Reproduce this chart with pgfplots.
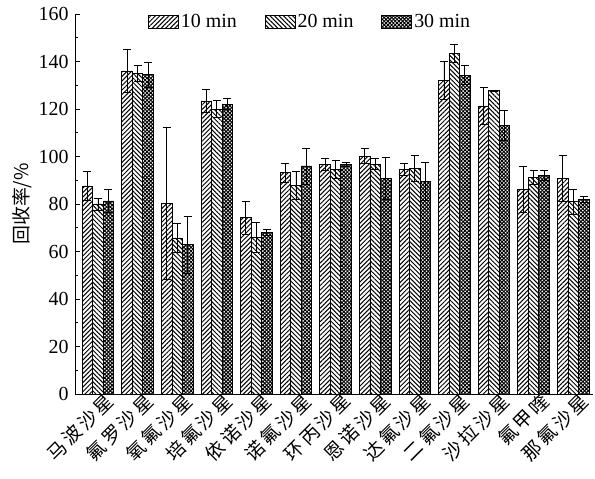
\documentclass[border=0pt]{standalone}
\usepackage{fontspec}
\setmainfont{Liberation Serif}
\newfontfamily\cjk{Noto Sans CJK SC}
\newfontfamily\cjkl{Noto Sans CJK SC}[LetterSpace=15]
\usepackage{pgfplots}
\usepackage{pgfplotstable}
\pgfplotsset{compat=1.18}
\usetikzlibrary{patterns.meta}

\pgfplotstableread{
x v10 e10 v20 e20 v30 e30
0 87.6 6.0 80.0 2.5 81.3 4.7
1 136.0 9.0 135.0 3.2 134.4 5.2
2 80.3 32.0 65.7 6.2 62.9 12.0
3 123.4 4.7 119.9 3.6 122.1 2.2
4 74.2 6.9 65.8 6.3 68.2 1.3
5 93.2 3.9 87.8 5.8 96.0 7.6
6 96.6 2.6 94.6 3.9 96.6 0.8
7 100.2 3.1 96.8 2.3 90.7 8.8
8 94.7 2.6 95.0 5.5 89.5 7.9
9 132.2 8.0 143.4 3.8 134.3 3.9
10 121.3 7.8 127.7 0.3 113.0 6.4
11 86.2 9.7 91.1 2.9 91.9 2.1
12 90.8 9.7 81.0 5.2 82.1 1.3
}\data

\pgfplotsset{
  mylegend/.style={legend image code/.code={\draw[##1, line width=0.8pt] (0bp,-6.5bp) rectangle (30bp,6.5bp);}},
  mybar/.style={ybar, bar width=0.265, bar shift=0pt, draw=black, line width=0.8pt,
    error bars/y dir=both, error bars/y explicit,
    error bars/error bar style={line width=0.8pt, black},
    error bars/error mark options={rotate=90, mark size=4bp, line width=0.8pt, black}},
}

\begin{document}
\begin{tikzpicture}
\begin{axis}[
  scale only axis,
  width=518bp, height=380bp,
  xmin=-0.58, xmax=12.5,
  ymin=0, ymax=160,
  axis x line=bottom, axis y line=left,
  axis line style={-, line width=0.8pt},
  ytick={0,20,...,160},
  minor y tick num=1,
  tick align=inside,
  major tick length=5bp, minor tick length=3bp,
  y tick style={line width=0.8pt, black},
  xtick={0,...,12},
  x tick style={draw=none},
  xticklabels={马波沙星,氟罗沙星,氧氟沙星,培氟沙星,依诺沙星,诺氟沙星,环丙沙星,恩诺沙星,达氟沙星,二氟沙星,沙拉沙星,氟甲喹,那氟沙星},
  xticklabel style={font=\cjkl\fontsize{19}{19}\selectfont, rotate=45, anchor=north east, inner sep=1bp, xshift=7bp, yshift=-1bp},
  yticklabel style={font=\fontsize{20}{20}\selectfont, xshift=-3bp},
  /pgf/number format/assume math mode=true,
  ylabel={\cjk 回收率/\%},
  ylabel style={font=\fontsize{19}{19}\selectfont, yshift=0bp},
  legend style={at={(0.135,1.01)}, anchor=north west, draw=none, fill=none,
    legend columns=3, font=\fontsize{20}{20}\selectfont,
    /tikz/every even column/.append style={column sep=26bp}},
  legend cell align=left,
  clip=false,
]
\addplot[mybar, mylegend, pattern={Lines[angle=45,distance=3.2bp,line width=1bp]}]
  table[x expr=\thisrow{x}-0.265, y=v10, y error=e10]{\data};
\addplot[mybar, mylegend, pattern={Lines[angle=-45,distance=3.2bp,line width=1bp]}]
  table[x=x, y=v20, y error=e20]{\data};
\addplot[mybar, mylegend, pattern={Hatch[angle=45,distance=2.6bp,line width=1bp]}]
  table[x expr=\thisrow{x}+0.265, y=v30, y error=e30]{\data};
\legend{10 min, 20 min, 30 min}
\end{axis}
\pgfresetboundingbox
\path ([shift={(-75bp,-85bp)}]current axis.south west) rectangle ([shift={(2bp,14bp)}]current axis.north east);
\end{tikzpicture}
\end{document}
